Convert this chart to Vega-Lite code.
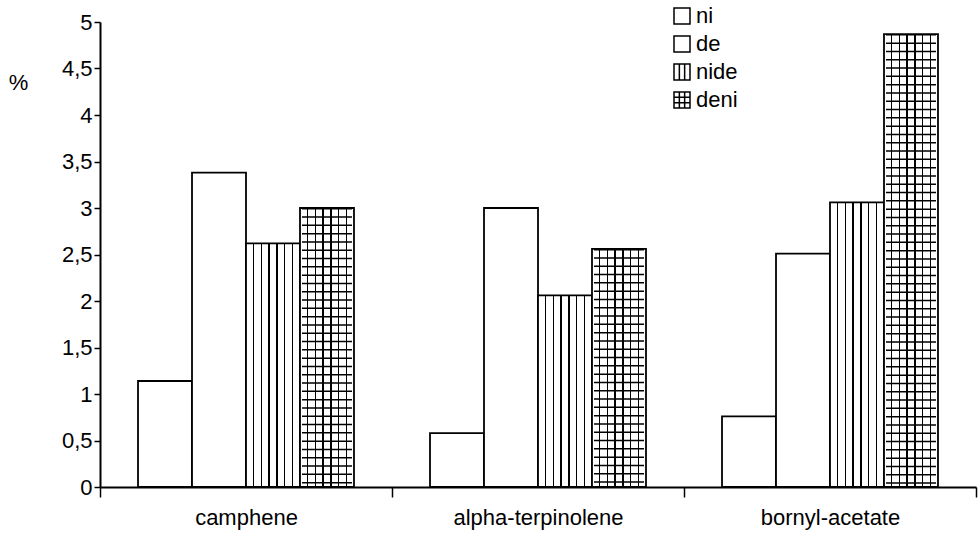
{
  "$schema": "https://vega.github.io/schema/vega-lite/v6.json",
  "width": 876,
  "height": 465,
  "autosize": {"type": "none"},
  "padding": {"left": 100, "top": 22, "right": 2, "bottom": 56},
  "background": "white",
  "config": {
    "view": {"stroke": null},
    "font": "Liberation Sans",
    "axis": {"labelFont": "Liberation Sans", "labelFontSize": 22, "labelColor": "black", "domainColor": "black", "tickColor": "black", "grid": false, "domainWidth": 2, "tickWidth": 1.5}
  },
  "data": {
    "values": [
      {"cat": "camphene", "series": "ni", "value": 1.14},
      {"cat": "camphene", "series": "de", "value": 3.38},
      {"cat": "camphene", "series": "nide", "value": 2.62},
      {"cat": "camphene", "series": "deni", "value": 3.0},
      {"cat": "alpha-terpinolene", "series": "ni", "value": 0.58},
      {"cat": "alpha-terpinolene", "series": "de", "value": 3.0},
      {"cat": "alpha-terpinolene", "series": "nide", "value": 2.06},
      {"cat": "alpha-terpinolene", "series": "deni", "value": 2.56},
      {"cat": "bornyl-acetate", "series": "ni", "value": 0.76},
      {"cat": "bornyl-acetate", "series": "de", "value": 2.51},
      {"cat": "bornyl-acetate", "series": "nide", "value": 3.06},
      {"cat": "bornyl-acetate", "series": "deni", "value": 4.87}
    ]
  },
  "layer": [
    {
      "mark": {"type": "bar", "stroke": "black", "strokeWidth": 1.8},
      "encoding": {
        "x": {
          "field": "cat", "type": "nominal",
          "sort": ["camphene", "alpha-terpinolene", "bornyl-acetate"],
          "scale": {"paddingInner": 0, "paddingOuter": 0},
          "axis": {"title": null, "labelAngle": 0, "tickBand": "extent", "tickSize": 10, "labelPadding": 10}
        },
        "xOffset": {
          "field": "series", "type": "nominal",
          "scale": {"domain": ["ni", "de", "nide", "deni"], "paddingInner": 0, "paddingOuter": 0.704}
        },
        "y": {
          "field": "value", "type": "quantitative",
          "scale": {"domain": [0, 5], "nice": false},
          "axis": {
            "values": [0, 0.5, 1, 1.5, 2, 2.5, 3, 3.5, 4, 4.5, 5],
            "labelExpr": "replace(format(datum.value, '~g'), '.', ',')",
            "tickSize": 6, "labelPadding": 2,
            "title": "%", "titleAngle": 0, "titleX": -82, "titleY": 60,
            "titleAlign": "center", "titleBaseline": "middle",
            "titleFontSize": 22, "titleFontWeight": "normal", "titleFont": "Liberation Sans", "titleColor": "black"
          }
        },
        "fill": {
          "condition": {
            "test": "datum.series === 'nide' || datum.series === 'deni'",
            "value": {
              "gradient": "linear", "x1": 0, "y1": 0, "x2": 1, "y2": 0,
              "stops": [
                {"offset": 0, "color": "white"},
                {"offset": 0.129, "color": "white"}, {"offset": 0.129, "color": "black"}, {"offset": 0.157, "color": "black"}, {"offset": 0.157, "color": "white"},
                {"offset": 0.272, "color": "white"}, {"offset": 0.272, "color": "black"}, {"offset": 0.3, "color": "black"}, {"offset": 0.3, "color": "white"},
                {"offset": 0.415, "color": "white"}, {"offset": 0.415, "color": "black"}, {"offset": 0.443, "color": "black"}, {"offset": 0.443, "color": "white"},
                {"offset": 0.557, "color": "white"}, {"offset": 0.557, "color": "black"}, {"offset": 0.585, "color": "black"}, {"offset": 0.585, "color": "white"},
                {"offset": 0.7, "color": "white"}, {"offset": 0.7, "color": "black"}, {"offset": 0.728, "color": "black"}, {"offset": 0.728, "color": "white"},
                {"offset": 0.843, "color": "white"}, {"offset": 0.843, "color": "black"}, {"offset": 0.871, "color": "black"}, {"offset": 0.871, "color": "white"},
                {"offset": 1, "color": "white"}
              ]
            }
          },
          "field": "series", "type": "nominal",
          "scale": {"domain": ["ni", "de", "nide", "deni"], "range": ["white", "white", "white", "white"]},
          "legend": {
            "orient": "none", "legendX": 571, "legendY": -17, "title": null,
            "labelFont": "Liberation Sans", "labelFontSize": 22, "labelColor": "black",
            "symbolSize": 256, "symbolType": "square", "symbolStrokeColor": "black", "symbolStrokeWidth": 1.5,
            "labelOffset": 3, "rowPadding": 6, "padding": 0,
            "encode": {
              "symbols": {
                "update": {
                  "shape": [
                    {"test": "datum.value === 'nide'", "value": "M-1,-1H1V1H-1Z M-0.33,-1V1 M0.33,-1V1"},
                    {"test": "datum.value === 'deni'", "value": "M-1,-1H1V1H-1Z M-0.33,-1V1 M0.33,-1V1 M-1,-0.33H1 M-1,0.33H1"},
                    {"value": "square"}
                  ],
                  "stroke": {"value": "black"},
                  "strokeWidth": {"value": 1.5},
                  "fill": {"value": "white"},
                  "opacity": {"value": 1}
                }
              }
            }
          }
        }
      }
    },
    {
      "transform": [{"filter": "datum.series === 'deni'"}],
      "mark": {"type": "rule", "color": "black", "strokeWidth": 50, "strokeDash": [1.5, 6.8], "strokeCap": "butt"},
      "encoding": {
        "x": {"field": "cat", "type": "nominal", "sort": ["camphene", "alpha-terpinolene", "bornyl-acetate"]},
        "xOffset": {"field": "series", "type": "nominal", "scale": {"domain": ["ni", "de", "nide", "deni"]}},
        "y": {"field": "value", "type": "quantitative"},
        "y2": {"datum": 0}
      }
    }
  ]
}
